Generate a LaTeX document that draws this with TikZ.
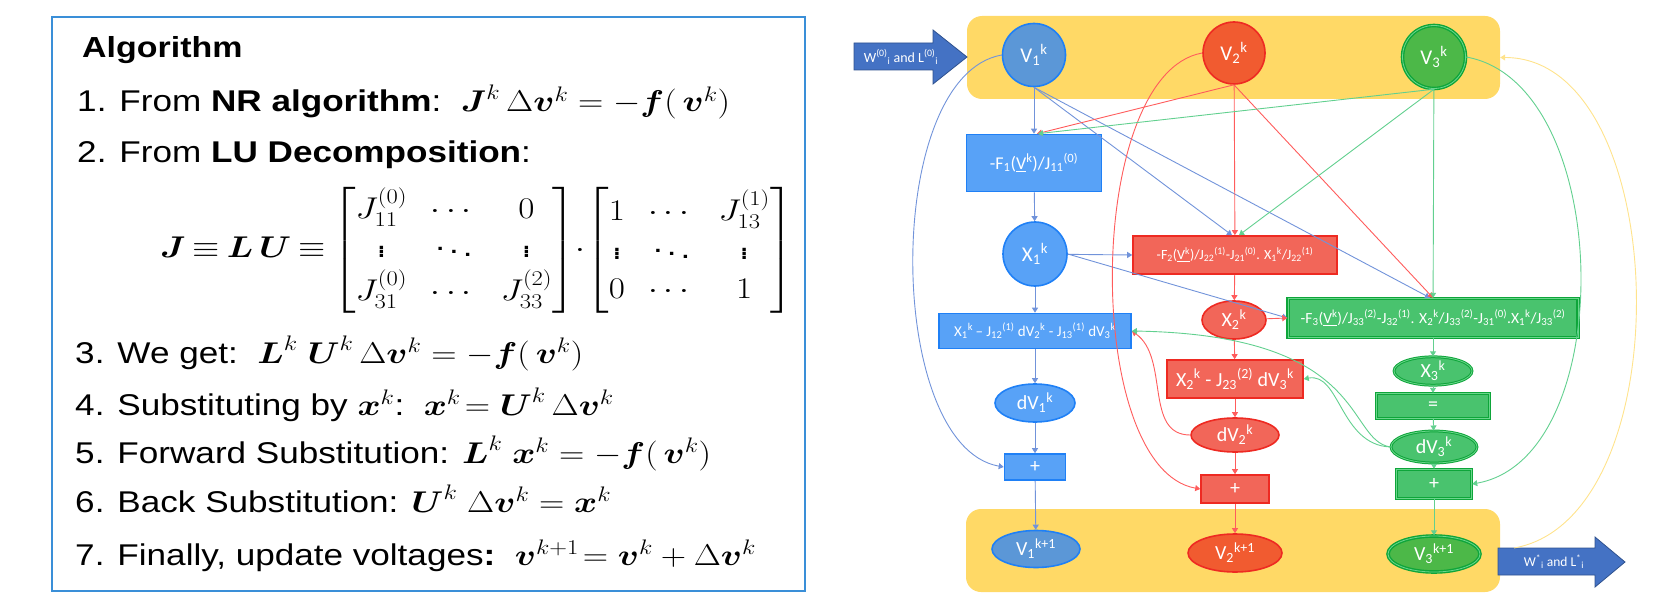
\RequirePackage{fix-cm}
\documentclass[tikz,border=0pt]{standalone}
\usepackage{amsmath,amssymb}
\usepackage[no-math]{fontspec}
\setmainfont{Liberation Sans}
\newfontfamily\carlito{Carlito}
\usetikzlibrary{shapes.geometric,arrows.meta}

\definecolor{bandyel}{HTML}{FFD966}
\definecolor{arrblue}{HTML}{4472C4}
\definecolor{arrline}{HTML}{2F528F}
\definecolor{algline}{HTML}{3A8FD8}
\definecolor{v1fill}{HTML}{5B97D7}
\definecolor{bfill}{HTML}{58A2F7}
\definecolor{bline}{HTML}{1F80F6}
\definecolor{bconn}{HTML}{7193DA}
\definecolor{v2fill}{HTML}{F15B30}
\definecolor{rfill}{HTML}{F26659}
\definecolor{rline}{HTML}{EE2A22}
\definecolor{rconn}{HTML}{FF5C5C}
\definecolor{v3fill}{HTML}{4CB848}
\definecolor{gfill}{HTML}{49C36E}
\definecolor{gline}{HTML}{0EA53A}
\definecolor{gdouble}{HTML}{6BD68C}
\definecolor{gconn}{HTML}{62D08F}
\definecolor{yconn}{HTML}{FFE38C}

\tikzstyle{algtext}=[anchor=base west, inner sep=0pt, xscale=1.17, transform shape, font=\fontsize{30}{36}\selectfont]
\tikzstyle{band}=[rectangle, rounded corners=15pt, fill=bandyel, draw=none]
\tikzstyle{nd}=[text=white, inner sep=0pt, font=\carlito\fontsize{20}{20}\selectfont]
\tikzstyle{bnode}=[nd, fill=bfill, draw=bline, line width=1.6pt]
\tikzstyle{rnode}=[nd, fill=rfill, draw=rline, line width=1.6pt]
\tikzstyle{gnode}=[nd, fill=gfill, draw=gline, line width=1.4pt, double=gdouble, double distance=0.8pt]
\tikzstyle{bc}=[draw=bconn, line width=0.9pt, ->]
\tikzstyle{rc}=[draw=rconn, line width=0.9pt, ->]
\tikzstyle{gc}=[draw=gconn, line width=0.9pt, ->]
\tikzstyle{yc}=[draw=yconn, line width=0.9pt, ->]
\tikzstyle{bigarrow}=[fill=arrblue, draw=arrline, line width=0.8pt]

\begin{document}
\begin{tikzpicture}[x=1pt, y=-1pt, >={Triangle[length=5pt,width=6pt]}]
\useasboundingbox (0,0) rectangle (1657,607);

\draw[draw=algline, line width=1.5pt] (52,17) rectangle (805,591);
\node[algtext, font=\fontsize{29}{34}\selectfont\bfseries] (title) at (82,58) {Algorithm};
\node[algtext] (step1) at (77,112) {1. From \textbf{NR algorithm}:\ \ $\boldsymbol{J}^{k}\,\Delta\boldsymbol{v}^{k} = -\boldsymbol{f}(\,\boldsymbol{v}^{k})$};
\node[algtext] (step2) at (77,163) {2. From \textbf{LU Decomposition}:};
\node[algtext, anchor=west] (lueq) at (160,250) {\setlength\arraycolsep{10pt}\renewcommand\arraystretch{1.08}\thickmuskip=3.5mu$\boldsymbol{J} \equiv \boldsymbol{L}\,\boldsymbol{U} \equiv
  \begin{bmatrix} J_{11}^{(0)} & \cdots & 0 \\ \vdots & \ddots & \vdots \\ J_{31}^{(0)} & \cdots & J_{33}^{(2)} \end{bmatrix}\mskip-3mu\mathord{\cdot}\mskip-3mu
  \begin{bmatrix} 1 & \cdots & J_{13}^{(1)} \\ \vdots & \ddots & \vdots \\ 0 & \cdots & 1 \end{bmatrix}$};
\node[algtext] (step3) at (75,363) {3. We get:\ \ $\boldsymbol{L}^{k}\ \boldsymbol{U}^{k}\,\Delta\boldsymbol{v}^{k} = -\boldsymbol{f}(\,\boldsymbol{v}^{k})$};
\node[algtext] (step4) at (75,415) {4. Substituting by $\boldsymbol{x}^{k}$:\ \ $\boldsymbol{x}^{k}\!= \boldsymbol{U}^{k}\,\Delta\boldsymbol{v}^{k}$};
\node[algtext] (step5) at (75,463) {5. Forward Substitution: $\boldsymbol{L}^{k}\ \boldsymbol{x}^{k} = -\boldsymbol{f}(\,\boldsymbol{v}^{k})$};
\node[algtext] (step6) at (75,512) {6. Back Substitution: $\boldsymbol{U}^{k}\ \Delta\boldsymbol{v}^{k} = \boldsymbol{x}^{k}$};
\node[algtext] (step7) at (75,565) {7. Finally, update voltages\textbf{:}\ \ $\boldsymbol{v}^{k+1}\!= \boldsymbol{v}^{k} + \Delta\boldsymbol{v}^{k}$};

\node[band, minimum width=533, minimum height=83] (topband) at (1233.5,57.5) {};
\node[band, minimum width=534, minimum height=83] (botband) at (1233,550.5) {};

\draw[bigarrow] (854,43) -- (933,43) -- (933,30) -- (967,57) -- (933,84) -- (933,70) -- (854,70) -- cycle;
\node[nd, font=\carlito\fontsize{14}{14}\selectfont] (inlabel) at (901,57) {W\textsuperscript{(0)}\textsubscript{i} and L\textsuperscript{(0)}\textsubscript{i}};
\draw[bigarrow] (1498,548) -- (1595,548) -- (1595,537) -- (1625,562) -- (1595,587) -- (1595,575) -- (1498,575) -- cycle;
\node[nd, font=\carlito\fontsize{13.5}{13.5}\selectfont] (outlabel) at (1554,562) {W\textsuperscript{*}\textsubscript{i} and L\textsuperscript{*}\textsubscript{i}};
\coordinate (outtail) at (1514,548);

\node[bnode, circle, fill=v1fill, minimum size=63pt, font=\carlito\fontsize{21}{21}\selectfont] (V1) at (1034,55) {V\textsubscript{1}\textsuperscript{k}};
\node[bnode, rectangle, minimum width=135pt, minimum height=57pt, font=\carlito\fontsize{18}{18}\selectfont] (F1) at (1034,163) {-F\textsubscript{1}(\underline{V}\textsuperscript{k})/J\textsubscript{11}\textsuperscript{(0)}};
\node[bnode, circle, minimum size=64pt, font=\carlito\fontsize{21}{21}\selectfont] (X1) at (1035,254) {X\textsubscript{1}\textsuperscript{k}};
\node[bnode, rectangle, minimum width=192pt, minimum height=35pt, font=\carlito\fontsize{15}{15}\selectfont] (X1box) at (1035,331) {X\textsubscript{1}\textsuperscript{k}\,– J\textsubscript{12}\textsuperscript{(1)} dV\textsubscript{2}\textsuperscript{k} - J\textsubscript{13}\textsuperscript{(1)} dV\textsubscript{3}\textsuperscript{k}};
\node[bnode, ellipse, minimum width=80pt, minimum height=38pt] (dV1) at (1035,403) {dV\textsubscript{1}\textsuperscript{k}};
\node[bnode, rectangle, minimum width=61pt, minimum height=26pt] (plus1) at (1035,467) {+};
\node[bnode, ellipse, fill=v1fill, minimum width=88pt, minimum height=37pt] (V1n) at (1036,549) {V\textsubscript{1}\textsuperscript{k+1}};

\node[rnode, circle, fill=v2fill, minimum size=62pt, font=\carlito\fontsize{21}{21}\selectfont] (V2) at (1234,53) {V\textsubscript{2}\textsuperscript{k}};
\node[rnode, rectangle, minimum width=204pt, minimum height=38pt, font=\carlito\fontsize{14}{14}\selectfont] (F2) at (1235,255) {-F\textsubscript{2}(\underline{V\textsuperscript{k}})/J\textsubscript{22}\textsuperscript{(1)}-J\textsubscript{21}\textsuperscript{(0)}. X\textsubscript{1}\textsuperscript{k}/J\textsubscript{22}\textsuperscript{(1)}};
\node[rnode, ellipse, minimum width=64pt, minimum height=38pt] (X2) at (1234,320) {X\textsubscript{2}\textsuperscript{k}};
\node[rnode, rectangle, minimum width=136pt, minimum height=38pt] (X2box) at (1235,379) {X\textsubscript{2}\textsuperscript{k} - J\textsubscript{23}\textsuperscript{(2)} dV\textsubscript{3}\textsuperscript{k}};
\node[rnode, ellipse, minimum width=88pt, minimum height=34pt] (dV2) at (1235,435) {dV\textsubscript{2}\textsuperscript{k}};
\node[rnode, rectangle, minimum width=68pt, minimum height=28pt] (plus2) at (1235,489) {+};
\node[rnode, ellipse, fill=v2fill, minimum width=94pt, minimum height=38pt] (V2n) at (1235,553) {V\textsubscript{2}\textsuperscript{k+1}};

\node[gnode, circle, fill=v3fill, minimum size=63pt, font=\carlito\fontsize{21}{21}\selectfont] (V3) at (1434,57) {V\textsubscript{3}\textsuperscript{k}};
\node[gnode, rectangle, minimum width=290pt, minimum height=39pt, font=\carlito\fontsize{15.5}{15.5}\selectfont] (F3) at (1433,318) {-F\textsubscript{3}(\underline{V\textsuperscript{k}})/J\textsubscript{33}\textsuperscript{(2)}-J\textsubscript{32}\textsuperscript{(1)}. X\textsubscript{2}\textsuperscript{k}/J\textsubscript{33}\textsuperscript{(2)}-J\textsubscript{31}\textsuperscript{(0)}.X\textsubscript{1}\textsuperscript{k}/J\textsubscript{33}\textsuperscript{(2)}};
\node[gnode, ellipse, line width=1pt, minimum width=78pt, minimum height=28pt] (X3) at (1433,371) {X\textsubscript{3}\textsuperscript{k}};
\node[gnode, rectangle, minimum width=113pt, minimum height=25pt] (eq) at (1433,406) {=};
\node[gnode, ellipse, line width=1pt, minimum width=86pt, minimum height=32pt] (dV3) at (1434,447) {dV\textsubscript{3}\textsuperscript{k}};
\node[gnode, rectangle, minimum width=75pt, minimum height=29pt] (plus3) at (1434,484) {+};
\node[gnode, ellipse, fill=v3fill, minimum width=92pt, minimum height=36pt] (V3n) at (1434,554) {V\textsubscript{3}\textsuperscript{k+1}};

\draw[bc] (V1) -- (F1);
\draw[bc] (V1.south) -- ([xshift=-3pt]F2.north);
\draw[bc] (V1.south) -- ([xshift=-3pt]F3.north);
\draw[bc] (V1.west) to[out=190, in=170, looseness=0.75] (plus1.west);
\draw[bc] (F1) -- (X1);
\draw[bc] (X1) -- (F2.west);
\draw[bc] (X1.east) -- (F3.west);
\draw[bc] (X1) -- (X1box);
\draw[bc] (X1box) -- (dV1);
\draw[bc] (dV1) -- (plus1);
\draw[bc] (plus1) -- (V1n);

\draw[rc] (V2.south) -- ([xshift=3pt]F1.north);
\draw[rc] (V2) -- (F2);
\draw[rc] (V2.south) -- (F3.north);
\draw[rc] (V2.west) to[out=190, in=170, looseness=0.7] (plus2.west);
\draw[rc] (F2) -- (X2);
\draw[rc] (X2) -- (F3.west);
\draw[rc] (X2) -- (X2box);
\draw[rc] (X2box) -- (dV2);
\draw[rc] (dV2) -- (plus2);
\draw[rc] (plus2) -- (V2n);
\draw[rc] (dV2.west) to[out=180, in=-35] (X1box.east);

\draw[gc] (V3.south) -- ([xshift=4pt]F1.north);
\draw[gc] (V3.south) -- ([xshift=4pt]F2.north);
\draw[gc] (V3) -- (F3);
\draw[gc] (V3.east) to[out=-10, in=10, looseness=0.9] (plus3.east);
\draw[gc] (F3) -- (X3);
\draw[gc] (X3) -- (eq);
\draw[gc] (eq) -- (dV3);
\draw[gc] (dV3) -- (plus3);
\draw[gc] (plus3) -- (V3n);
\draw[gc] (dV3.west) .. controls (1345,440) and (1370,335) .. (X1box.east);
\draw[gc] (dV3.west) .. controls (1340,445) and (1340,372) .. (X2box.east);

\draw[yc] (outtail) to[out=10, in=0, looseness=0.9] (topband.east);
\end{tikzpicture}
\end{document}
